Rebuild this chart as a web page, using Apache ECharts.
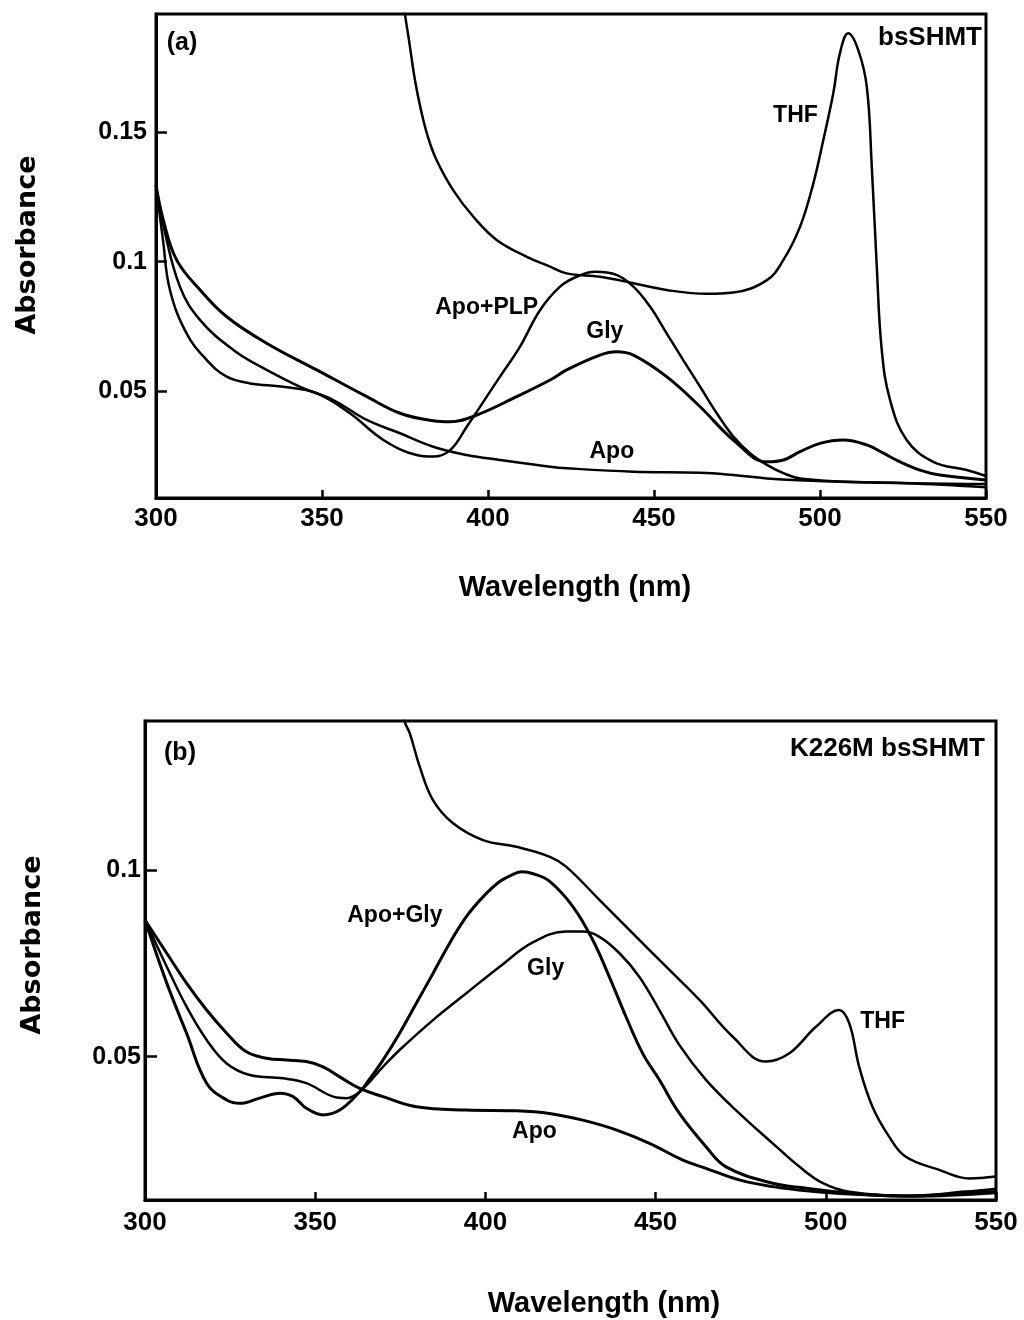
<!DOCTYPE html>
<html><head><meta charset="utf-8">
<script src="https://cdn.jsdelivr.net/npm/echarts@6/dist/echarts.min.js"></script>
<style>html,body{margin:0;padding:0;background:#fff}#c{width:1024px;height:1320px}</style>
</head><body><div id="c"></div>
<script>
// ---------- tick values ----------
const xTicks = [300, 350, 400, 450, 500, 550];
const yTicksA = [0.05, 0.1, 0.15];
const yTicksB = [0.05, 0.1];

// ---------- panel (a) bsSHMT : [wavelength nm, absorbance] ----------
const a_THF = [[373.8,0.2086],[375.0,0.1954],[376.2,0.1854],[378.0,0.1700],[379.8,0.1585],[381.9,0.1481],[384.5,0.1392],[389.5,0.1276],[395.6,0.1173],[402.6,0.1084],[411.7,0.1019],[418.7,0.0981],[423.7,0.0955],[433.7,0.0942],[443.8,0.0917],[453.8,0.0891],[465.9,0.0876],[473.9,0.0881],[484.0,0.0929],[489.0,0.1007],[494.0,0.1135],[498.0,0.1302],[501.0,0.1469],[504.0,0.1649],[506.0,0.1803],[508.5,0.1880],[511.5,0.1816],[514.1,0.1674],[515.6,0.1366],[517.1,0.0981],[518.6,0.0660],[521.1,0.0467],[526.1,0.0313],[534.1,0.0229],[544.2,0.0197],[550,0.0174]];
const a_ApoPLP = [[300,0.1296],[302.1,0.1084],[304.2,0.0891],[309.2,0.0724],[315.3,0.0621],[321.3,0.0557],[328.3,0.0531],[338.3,0.0518],[348.4,0.0493],[358.4,0.0416],[368.5,0.0313],[378.5,0.0255],[383.5,0.0249],[388.6,0.0274],[393.6,0.0364],[403.6,0.0557],[409.6,0.0672],[415.7,0.0814],[421.7,0.0904],[426.7,0.0942],[432.2,0.0961],[438.7,0.0949],[443.8,0.0904],[448.8,0.0827],[453.8,0.0724],[458.8,0.0621],[463.9,0.0518],[468.9,0.0416],[473.9,0.0326],[478.9,0.0262],[484.0,0.0217],[489.0,0.0185],[494.0,0.0165],[509.0,0.0152],[550,0.0143]];
const a_Gly = [[300,0.1296],[302.2,0.1161],[306.2,0.1007],[313.3,0.0891],[321.3,0.0788],[333.3,0.0686],[348.4,0.0583],[363.5,0.0480],[373.5,0.0416],[383.5,0.0387],[388.6,0.0383],[396.6,0.0409],[408.6,0.0480],[418.7,0.0544],[423.7,0.0583],[433.7,0.0640],[438.7,0.0653],[443.8,0.0640],[453.8,0.0557],[463.9,0.0441],[473.9,0.0313],[484.0,0.0229],[489.0,0.0236],[494.0,0.0268],[500.0,0.0300],[507.0,0.0313],[514.1,0.0294],[519.1,0.0262],[524.1,0.0229],[530.1,0.0197],[536.1,0.0178],[550,0.0159]];
const a_Apo = [[300,0.1296],[302.2,0.1141],[307.2,0.0904],[313.3,0.0775],[323.3,0.0660],[333.3,0.0583],[343.4,0.0518],[353.4,0.0467],[363.5,0.0390],[373.5,0.0339],[383.5,0.0287],[393.6,0.0255],[403.6,0.0236],[418.7,0.0210],[423.7,0.0204],[443.8,0.0191],[463.9,0.0187],[473.9,0.0178],[484.0,0.0165],[506.0,0.0152],[526.1,0.0146],[550,0.0131]];

// ---------- panel (b) K226M bsSHMT ----------
const b_THF = [[375.6,0.150],[376.3,0.1399],[377.8,0.1366],[380.7,0.1277],[384.6,0.1187],[390.5,0.1125],[399.3,0.1080],[409.1,0.1062],[418.8,0.1036],[423.7,0.1009],[433.5,0.0920],[443.3,0.0830],[453.1,0.0741],[462.9,0.0652],[472.6,0.0554],[482.4,0.0487],[489.3,0.0509],[497.1,0.0580],[503.9,0.0625],[506.9,0.0589],[509.8,0.0473],[513.7,0.0366],[518.6,0.0286],[523.5,0.0232],[533.3,0.0197],[542.1,0.0174],[550,0.0179]];
const b_ApoGly = [[300,0.0866],[306.4,0.0697],[312.2,0.0563],[318.1,0.0429],[324.0,0.0384],[327.9,0.0375],[333.7,0.0389],[339.6,0.0402],[343.5,0.0393],[347.4,0.0362],[352.3,0.0344],[357.2,0.0357],[363.1,0.0406],[365.1,0.0429],[369.9,0.0491],[374.8,0.0563],[379.7,0.0643],[384.6,0.0723],[389.5,0.0804],[394.4,0.0875],[399.3,0.0928],[404.2,0.0969],[408.0,0.0988],[410.8,0.0995],[414.0,0.0990],[418.8,0.0970],[425.7,0.0902],[431.5,0.0813],[436.4,0.0714],[441.3,0.0607],[446.2,0.0509],[451.1,0.0438],[457.0,0.0348],[464.8,0.0259],[470.7,0.0205],[484.4,0.0161],[494.2,0.0148],[506.9,0.0135],[521.5,0.0127],[536.2,0.0132],[550,0.0138]];
const b_Gly = [[300,0.0866],[306.4,0.0741],[312.2,0.0634],[318.1,0.0545],[324.0,0.0482],[330.8,0.0451],[340.6,0.0442],[347.4,0.0429],[355.3,0.0393],[359.2,0.0389],[363.1,0.0406],[369.9,0.0473],[374.8,0.0518],[384.6,0.0598],[394.4,0.0670],[404.2,0.0741],[413.9,0.0806],[423.7,0.0835],[428.6,0.0835],[433.5,0.0821],[439.4,0.0777],[445.2,0.0714],[451.1,0.0625],[457.0,0.0531],[464.8,0.0438],[474.6,0.0348],[484.4,0.0268],[492.3,0.0205],[499.0,0.0162],[506.9,0.0138],[525.6,0.0126],[550,0.0135]];
const b_Apo = [[300,0.0866],[306.4,0.0777],[312.2,0.0697],[318.1,0.0625],[324.0,0.0563],[329.8,0.0513],[335.7,0.0496],[341.6,0.0491],[347.4,0.0487],[352.3,0.0473],[357.2,0.0446],[363.1,0.0415],[369.9,0.0393],[379.7,0.0366],[394.4,0.0357],[409.1,0.0355],[418.8,0.0348],[428.6,0.0330],[438.4,0.0304],[448.2,0.0268],[458.0,0.0223],[464.8,0.0201],[474.6,0.0170],[484.4,0.0152],[495.1,0.0140],[506.9,0.0132],[525.6,0.0127],[540.9,0.0138],[550,0.0146]];

// curve labels, anchored in data coordinates
const labelsA = [
  {text:'THF', nm:492.6, abs:0.1561},
  {text:'Apo+PLP', nm:399.6, abs:0.0824},
  {text:'Gly', nm:435.2, abs:0.0729},
  {text:'Apo', nm:437.3, abs:0.0268}
];
const labelsB = [
  {text:'Apo+Gly', nm:373.4, abs:0.0879},
  {text:'Gly', nm:417.7, abs:0.0735},
  {text:'THF', nm:516.7, abs:0.0594},
  {text:'Apo', nm:414.4, abs:0.0299}
];

const FONT = "'Liberation Sans', Arial, Helvetica, sans-serif";
const INK = '#000';

const chart = echarts.init(document.getElementById('c'), null, {renderer:'canvas'});

function xAxisCfg(gi, margin) {
  return {
    type:'value', gridIndex:gi, min:xTicks[0], max:xTicks[xTicks.length-1], interval:50,
    axisLine:{show:true, onZero:false, lineStyle:{color:INK, width:3}},
    axisTick:{show:true, inside:true, length:8, lineStyle:{color:INK, width:2.5}},
    axisLabel:{show:true, color:INK, fontFamily:FONT, fontWeight:'bold', fontSize:26, margin:margin,
      formatter: v => xTicks.indexOf(v) >= 0 ? String(v) : ''},
    splitLine:{show:false}
  };
}
function yAxisCfg(gi, min, max, ticks, margin, len) {
  const fmt = v => ticks.some(t => Math.abs(t - v) < 1e-9) ? String(+v.toFixed(3)) : '';
  return {
    type:'value', gridIndex:gi, min:min, max:max, splitNumber:4, minInterval:0.05, maxInterval:0.05,
    axisLine:{show:true, onZero:false, lineStyle:{color:INK, width:3}},
    axisTick:{show:true, inside:true, length:len, customValues:ticks, lineStyle:{color:INK, width:2.5}},
    axisLabel:{show:true, color:INK, fontFamily:FONT, fontWeight:'bold', fontSize:25, margin:margin,
      customValues:ticks, formatter:fmt},
    splitLine:{show:false}
  };
}
function line(data, xi, width) {
  return {type:'line', xAxisIndex:xi, yAxisIndex:xi, data:data, showSymbol:false, symbol:'none',
    smooth:0.4, clip:true, silent:true, animation:false,
    lineStyle:{color:INK, width:width || 2.5}};
}

const option = {
  backgroundColor:'#fff',
  animation:false,
  grid:[
    {left:156, top:14, width:830, height:484, show:true, borderColor:INK, borderWidth:3, backgroundColor:'transparent'},
    {left:145, top:721, width:851, height:479, show:true, borderColor:INK, borderWidth:3, backgroundColor:'transparent'}
  ],
  xAxis:[xAxisCfg(0, 8), xAxisCfg(1, 10)],
  yAxis:[yAxisCfg(0, 0.00894, 0.19545, yTicksA, 9, 11), yAxisCfg(1, 0.01162, 0.1399, yTicksB, 4, 12)],
  series:[
    line(a_THF, 0), line(a_ApoPLP, 0), line(a_Gly, 0, 3), line(a_Apo, 0),
    line(b_THF, 1), line(b_ApoGly, 1, 3), line(b_Gly, 1), line(b_Apo, 1, 3)
  ]
};
chart.setOption(option);

function txt(text, x, y, size, opts) {
  opts = opts || {};
  return {
    type:'text', x:x, y:y, rotation:opts.rot || 0, silent:true, z:10,
    style:{text:text, fill:INK, font:'bold ' + size + 'px ' + (opts.family || FONT),
      align:opts.align || 'center', verticalAlign:'middle',
      textAlign:opts.align || 'center', textVerticalAlign:'middle'}
  };
}
const graphics = [
  txt('Absorbance', 28, 245, 27, {rot:Math.PI/2, family:"'DejaVu Sans', sans-serif"}),
  txt('Absorbance', 33, 945, 27, {rot:Math.PI/2, family:"'DejaVu Sans', sans-serif"}),
  txt('Wavelength (nm)', 575, 588, 29),
  txt('Wavelength (nm)', 604, 1304, 29),
  txt('(a)', 182, 43, 25),
  txt('bsSHMT', 982, 38, 26, {align:'right'}),
  txt('(b)', 180, 753, 25),
  txt('K226M bsSHMT', 985, 749, 26, {align:'right'})
];
labelsA.forEach(l => {
  const p = chart.convertToPixel({gridIndex:0}, [l.nm, l.abs]);
  graphics.push(txt(l.text, p[0], p[1], 23));
});
labelsB.forEach(l => {
  const p = chart.convertToPixel({gridIndex:1}, [l.nm, l.abs]);
  graphics.push(txt(l.text, p[0], p[1], 23));
});
chart.setOption({graphic:graphics});
</script>
</body></html>
